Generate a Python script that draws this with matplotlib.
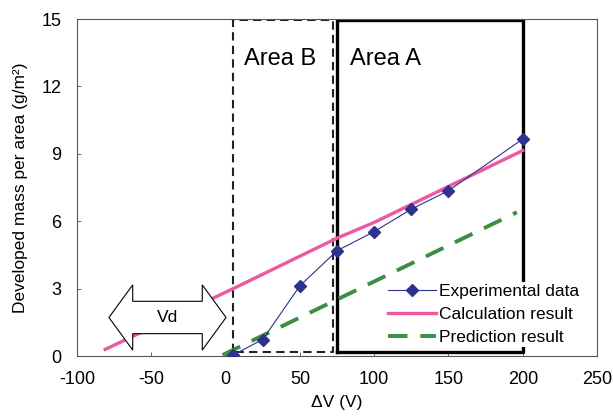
#!/usr/bin/env python3
import matplotlib.pyplot as plt
import matplotlib.patches as mpatches
import numpy as np

plt.rcParams['font.family'] = ['Liberation Sans', 'DejaVu Sans']
plt.rcParams['axes.unicode_minus'] = False

# experimental data
expV = [5, 25, 50, 75, 100, 125, 150, 200]
expMass = [0.05, 0.74, 3.13, 4.69, 5.54, 6.54, 7.36, 9.66]

# calculation result
calcV = [-81, 5, 75, 100, 150, 200]
calcMass = [0.3, 3.0, 5.25, 5.95, 7.55, 9.15]

# prediction result
predV = [-2, 196]
predMass = [0.05, 6.4]

# areas (x range, y range)
areaB = (5, 72.5, 0.2, 14.95)
areaA = (75, 200, 0.2, 14.95)

# Vd arrow
vdLeft, vdRight, vdY = -78.5, 0.3, 1.72
vdHeadLen, vdHeadHalf, vdBodyHalf = 16, 1.45, 0.72

BLUE = "#2e3192"
PINK = "#f0589e"
GREEN = "#3a8f40"


def draw_vd_arrow(ax):
        xl, xr = vdLeft, vdRight
        pts = [
                (xl, vdY),
                (xl + vdHeadLen, vdY + vdHeadHalf),
                (xl + vdHeadLen, vdY + vdBodyHalf),
                (xr - vdHeadLen, vdY + vdBodyHalf),
                (xr - vdHeadLen, vdY + vdHeadHalf),
                (xr, vdY),
                (xr - vdHeadLen, vdY - vdHeadHalf),
                (xr - vdHeadLen, vdY - vdBodyHalf),
                (xl + vdHeadLen, vdY - vdBodyHalf),
                (xl + vdHeadLen, vdY - vdHeadHalf),
        ]
        ax.add_patch(mpatches.Polygon(pts, closed=True, facecolor="white",
                                      edgecolor="black", linewidth=0.8, zorder=4))
        ax.text((xl + xr) / 2, vdY, "Vd", ha="center", va="center", fontsize=12.5, zorder=5)


fig = plt.figure(figsize=(6.13, 4.18), dpi=100)
ax = fig.add_axes([0.1256, 0.148, 0.8484, 0.8065])

ax.plot(calcV, calcMass, color=PINK, linewidth=2.4, label="Calculation result", zorder=3)
ax.plot(predV, predMass, color=GREEN, linewidth=2.8, dashes=(5, 3.3), label="Prediction result", zorder=3)

x0, x1, y0, y1 = areaB
ax.plot([x0, x0, x1, x1, x0], [y0, y1, y1, y0, y0], color="#222222", linewidth=1.5,
        dashes=(4, 2.5), zorder=2)
x0, x1, y0, y1 = areaA
ax.plot([x0, x0, x1, x1, x0], [y0, y1, y1, y0, y0], color="black", linewidth=2.4, zorder=2)

ax.plot(expV, expMass, color=BLUE, linewidth=0.8, marker="D", markersize=6,
        label="Experimental data", zorder=6)

draw_vd_arrow(ax)

ax.text(12.5, 13.2, "Area B", fontsize=17, va="center", ha="left")
ax.text(84, 13.2, "Area A", fontsize=17, va="center", ha="left")

ax.set_xlim(-100, 250)
ax.set_ylim(0, 15)
ax.set_xticks(np.arange(-100, 251, 50))
ax.set_yticks(np.arange(0, 16, 3))
ax.tick_params(direction="in", labelsize=13, length=3, width=0.6, color="#555555")
ax.tick_params(axis="x", pad=11)
ax.tick_params(axis="y", pad=11)
for s in ax.spines.values():
        s.set_color("#555555")
        s.set_linewidth(0.8)

ax.set_xlabel("ΔV (V)", fontsize=12.5, labelpad=5)
ax.set_ylabel("Developed mass per area (g/m²)", fontsize=12.5, labelpad=10)

handles, labels = ax.get_legend_handles_labels()
order = [2, 0, 1]
leg = ax.legend([handles[i] for i in order], [labels[i] for i in order],
                loc="lower right", bbox_to_anchor=(0.968, 0.028), frameon=True,
                fontsize=12.5, handlelength=2.75, handletextpad=0.15, labelspacing=0.45,
                borderpad=0.1, borderaxespad=0.0)
leg.get_frame().set_edgecolor("none")
leg.get_frame().set_facecolor("white")
leg.get_frame().set_alpha(1.0)
leg.set_zorder(7)

plt.savefig("out.png", dpi=100)
